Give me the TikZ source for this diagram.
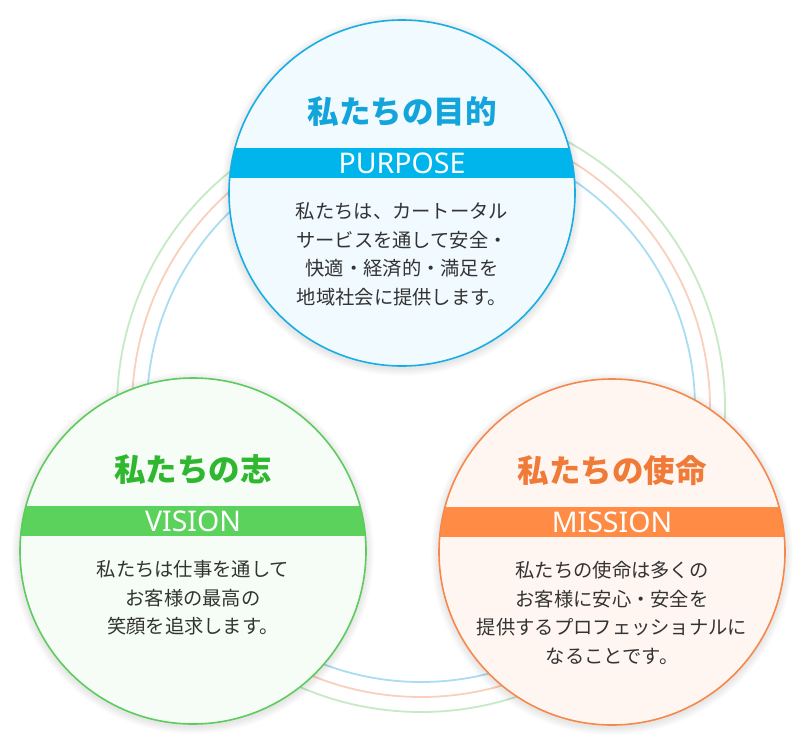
\documentclass[tikz,border=0pt]{standalone}
\usepackage{fontspec}
\setmainfont{Noto Sans CJK JP}
\newfontfamily\latinfont{Noto Sans}
\usepackage{tikz}
\usetikzlibrary{calc}

\definecolor{bluemain}{HTML}{00B4EC}
\definecolor{blueline}{HTML}{19AEE3}
\definecolor{bluetext}{HTML}{12A4DB}
\definecolor{bluefill}{HTML}{F1FAFE}
\definecolor{bluering}{HTML}{A9DDF2}
\definecolor{greenmain}{HTML}{5BD25B}
\definecolor{greenline}{HTML}{5DCB5D}
\definecolor{greentext}{HTML}{2FB82F}
\definecolor{greenfill}{HTML}{F6FDF6}
\definecolor{greenring}{HTML}{C6EAC6}
\definecolor{orangemain}{HTML}{FF8B45}
\definecolor{orangeline}{HTML}{F5884A}
\definecolor{orangetext}{HTML}{F07B38}
\definecolor{orangefill}{HTML}{FFF6F1}
\definecolor{orangering}{HTML}{F9D0BC}
\definecolor{bodytext}{HTML}{333333}

\newcommand{\valuecircle}[6]{%
        \foreach \k in {1,...,8}
            \fill[black,opacity=0.013] ($(#2)+(0,2)$) circle ({173+\k pt});
        \fill[#3fill] (#2) circle (173pt);
        \begin{scope}
            \clip (#2) circle (173pt);
            \fill[#3main] ($(#2)+(-180,-45)$) rectangle ($(#2)+(180,-15)$);
        \end{scope}
        \draw[#3line,line width=1.6pt] (#2) circle (173pt);
        \node[title,text=#3text] (#1title) at ($(#2)+(0,-81)$) {#4};
        \node[band] (#1band) at ($(#2)+(0,-30)$) {#5};
        \node[body] (#1body) at ($(#2)+(0,9.5)$) {#6};
}

\begin{document}
\begin{tikzpicture}[x=1pt,y=-1pt,
        title/.style={inner sep=0pt,font=\bfseries\fontsize{31.5}{31.5}\selectfont},
        band/.style={inner sep=0pt,text=white,font=\latinfont\fontsize{28.5}{28.5}\selectfont},
        body/.style={anchor=north,inner sep=0pt,align=center,text=bodytext,
            font=\fontsize{19.3}{28.5}\selectfont}]
        \useasboundingbox[fill=white] (0,0) rectangle (803,744);

        \coordinate (ringcenter) at (421,408);
        \foreach \r/\c in {274/bluering,289/orangering,304/greenring}
            \draw[\c,line width=1.8pt] (ringcenter) circle (\r pt);

        \coordinate (purpose) at (402,193);
        \coordinate (vision) at (193,551);
        \coordinate (mission) at (612,552);

        \valuecircle{purpose}{purpose}{blue}{私たちの目的}{PURPOSE}
            {私たちは、カートータル\\サービスを通して安全・\\快適・経済的・満足を\\地域社会に提供します。}
        \valuecircle{vision}{vision}{green}{私たちの志}{VISION}
            {私たちは仕事を通して\\お客様の最高の\\笑顔を追求します。}
        \valuecircle{mission}{mission}{orange}{私たちの使命}{MISSION}
            {私たちの使命は多くの\\お客様に安心・安全を\\提供するプロフェッショナルに\\なることです。}
\end{tikzpicture}
\end{document}
